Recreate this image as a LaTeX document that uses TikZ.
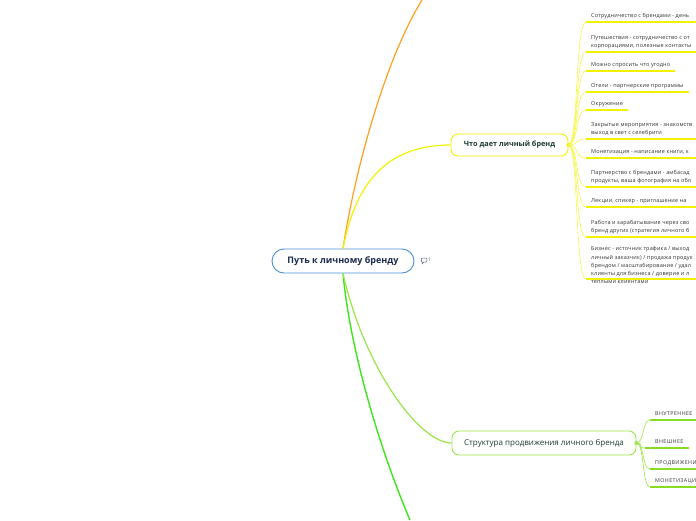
\documentclass[tikz,border=0pt]{standalone}
\usepackage{fontspec}
\setmainfont{Open Sans}
\definecolor{cblue}{HTML}{4A8FD8}
\definecolor{ctext}{HTML}{1B2A4E}
\definecolor{ybord}{HTML}{F2F200}
\definecolor{yconn}{HTML}{F6F650}
\definecolor{orng}{HTML}{FFA020}
\definecolor{gbright}{HTML}{3EE61C}
\definecolor{glight}{HTML}{9BE648}
\definecolor{gul}{HTML}{86DD22}
\definecolor{dgreen}{HTML}{1E3B30}
\definecolor{itemtext}{HTML}{333333}
\definecolor{icongray}{HTML}{5A6A80}
\begin{document}
\begin{tikzpicture}[x=1pt,y=-1pt,
  central/.style={draw=cblue, line width=0.9pt, rounded corners=12pt, fill=white,
    minimum width=142pt, minimum height=24pt, inner sep=0pt, text=ctext,
    font=\fontsize{9}{10}\selectfont\bfseries},
  topic/.style={line width=0.9pt, rounded corners=7pt, fill=white, inner sep=0pt,
    text=dgreen},
  item/.style={anchor=south west, inner xsep=5pt, inner ysep=2.5pt, text depth=1.5pt,
    align=left, text=itemtext, font=\fontsize{5.5}{8.2}\selectfont\addfontfeatures{LetterSpace=3}},
  sitem/.style={item, font=\fontsize{5.3}{8}\selectfont\addfontfeatures{LetterSpace=8}},
  yul/.style={draw=ybord, line width=1.4pt},
  ycon/.style={draw=yconn, line width=0.6pt},
  gul/.style={draw=gul, line width=1.4pt},
  gcon/.style={draw=glight, line width=0.6pt},
  branch/.style={line width=1.2pt}
]
\useasboundingbox (0,0) rectangle (696,520);
\clip (0,0) rectangle (696,520);

% central node
\node[central] (c) at (343,261) {Путь к личному бренду};

% topic nodes
\node[topic, draw=ybord, minimum width=117pt, minimum height=22pt,
  font=\fontsize{7.3}{9}\selectfont\bfseries] (w) at (509.5,145) {Что дает личный бренд};
\node[topic, draw=glight, minimum width=184pt, minimum height=24pt,
  font=\fontsize{8}{9}\selectfont] (s) at (544,443) {Структура продвижения личного бренда};

% main branches
\coordinate (otop) at (422,0);
\coordinate (gbot) at (410,520);
\draw[branch, orng] (c.north) .. controls (355,170) and (385,60) .. (otop);
\draw[branch, gbright, line width=1.4pt] (c.south) .. controls (350,350) and (380,450) .. (gbot);
\draw[branch, ybord] (c.north) .. controls (355,185) and (385,145) .. (w.west);
\draw[branch, glight] (c.south) .. controls (365,370) and (420,443) .. (s.west);

% comment icon
\node[draw=icongray, line width=0.5pt, rounded corners=0.8pt, minimum width=5.5pt,
  minimum height=4pt, inner sep=0pt] (cm) at (424,260) {};
\draw[icongray, line width=0.5pt] (cm.south west) ++(1.2,0) -- ++(0,1.5) -- ++(1.5,-1.5);
\node[anchor=west, inner sep=0pt, text=icongray, font=\fontsize{5}{6}\selectfont] (cmn) at (cm.east) {\,1};

% knobs
\fill[ybord] (w.east) circle (2pt);
\fill[glight] (s.east) circle (2pt);

% items of "Что дает личный бренд"
\node[item] (i1) at (586,22) {Сотрудничество с брендами - день};
\node[item] (i2) at (586,52) {Путешествия - сотрудничество с от\\корпорациями, полезные контакты};
\node[item] (i3) at (586,71) {Можно спросить что угодно};
\node[item] (i4) at (586,92) {Отели - партнерские программы};
\node[item] (i5) at (586,110) {Окружение};
\node[item] (i6) at (586,139) {Закрытые мероприятия - знакомств\\выход в свет с селебрити};
\node[item] (i7) at (586,158) {Монетизация - написание книги, к};
\node[item] (i8) at (586,187) {Партнерство с брендами - амбасад\\продукты, ваша фотография на обл};
\node[item] (i9) at (586,207) {Лекции, спикер - приглашение на};
\node[item] (i10) at (586,237) {Работа и зарабатывание через сво\\бренд других (стратегия личного б};
\node[item, anchor=north west, inner ysep=0pt] (i11) at (586,246.5) {Бизнес - источник трафика / выход\\личный заказчик) / продажа продук\\брендом / масштабирование / удал\\клиенты для бизнеса / доверие и л\\теплыми клиентами};
\coordinate (u11) at (586,279);

\foreach \n in {i1,i2,i6,i7,i8,i9,i10}{
  \draw[ycon] (w.east) .. controls +(10,0) and +(-11,0) .. (\n.south west);
  \draw[yul] (\n.south west) -- ++(120,0);
}
\foreach \n in {i3,i4,i5}{
  \draw[ycon] (w.east) .. controls +(10,0) and +(-11,0) .. (\n.south west);
  \draw[yul] (\n.south west) -- (\n.south east);
}
\draw[ycon] (w.east) .. controls +(10,0) and +(-11,0) .. (u11);
\draw[yul] (u11) -- ++(120,0);

% items of structure
\node[sitem] (g1) at (650,420) {ВНУТРЕННЕЕ};
\node[sitem] (g2) at (645,448) {\hspace{5pt}ВНЕШНЕЕ};
\node[sitem] (g3) at (650,469) {ПРОДВИЖЕНИ};
\node[sitem] (g4) at (650,487) {МОНЕТИЗАЦИ};
\foreach \n in {g1,g2,g3,g4}{
  \draw[gcon] (s.east) .. controls +(8,0) and +(-8,0) .. (\n.south west);
}
\draw[gul] (g1.south west) -- ++(60,0);
\draw[gul] (g2.south west) -- (g2.south east);
\draw[gul] (g3.south west) -- ++(60,0);
\draw[gul] (g4.south west) -- ++(60,0);
\end{tikzpicture}
\end{document}
